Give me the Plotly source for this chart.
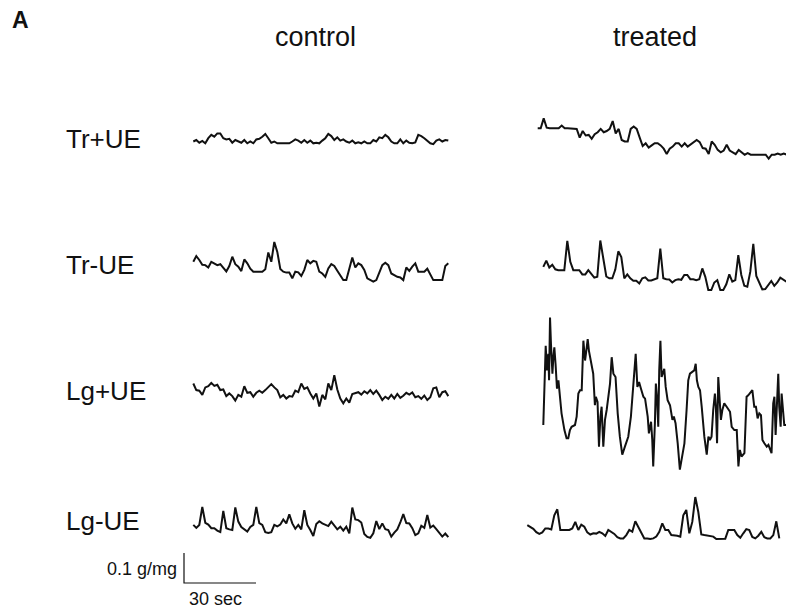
import plotly.graph_objects as go

# ---------------- canvas / scale ----------------
W, H = 794, 611           # target picture size
OFF = 8                   # page body margin of the browser
WF, HF = W - OFF, H - OFF # visible figure size
PX_PER_SEC = 2.4          # 30 s scale bar = 72 px
PX_PER_GMG = 300.0        # 0.1 g/mg scale bar = 30 px
SAMPLE_INTERVAL = 1.25    # s between digitised samples

ROW_LABELS = ["Tr+UE", "Tr-UE", "Lg+UE", "Lg-UE"]
COLUMN_TITLES = ["control", "treated"]
PANEL_LETTER = "A"
SCALE_TIME = 30           # s
SCALE_FORCE = 0.1         # g/mg
SCALE_TIME_LABEL = "30 sec"
SCALE_FORCE_LABEL = "0.1 g/mg"

# ---------------- data (force, mg/mg, relative to trace baseline) ----------------
control_tr_plus_ue = [6, 11, 2, 8, 0, 17, 28, 22, 33, 33, 17, 13, 15, 2, 11, 6, 2, 11, 0, 6,
                      0, 13, 15, 22, 31, 17, 2, 6, 0, 0, 0, 0, 0, 6, 13, 9, 2, 11, 2, 9,
                      0, 2, 0, 9, 17, 31, 24, 11, 20, 9, 13, 6, 2, 9, 0, 3, 0, 6, 0, 0,
                      11, 6, 20, 17, 28, 20, 6, 0, 0, 13, 0, 9, 2, 0, 3, 28, 24, 17, 9, 0,
                      -3, 9, 13, 6, 11, 9]
treated_tr_plus_ue = [0, 0, 33, 2, 0, 0, 0, 0, 9, 0, 0, 0, 0, -2, -31, -9, -24, -22, -35, -20,
                      -13, -2, -13, -9, -2, 24, -17, -2, -39, -44, -44, -2, 6, -2, -31, -59, -50, -64, -57, -50,
                      -50, -57, -68, -86, -68, -61, -50, -50, -61, -50, -61, -53, -46, -39, -46, -66, -68, -86, -44, -55,
                      -72, -80, -74, -55, -74, -79, -86, -72, -79, -88, -83, -88, -88, -88, -88, -88, -88, -101, -88, -88,
                      -84, -88, -84, -88, -90, -83]
control_tr_minus_ue = [33, 52, 39, 23, 22, 14, 33, 28, 22, 25, 11, 1, 19, 50, 25, 17, 2, 41, 28, 10,
                       0, 0, 0, 0, 8, 64, 33, 99, 66, 9, 0, -3, -3, -22, 0, -2, -14, 6, 39, 28,
                       36, 33, 0, -6, -17, 11, 25, 19, 3, -14, -28, -28, 6, 47, 14, 28, 22, 6, -22, -28,
                       -33, -28, -3, 22, 30, 22, -6, -11, -17, -19, -28, 14, 3, 17, 28, 0, 0, 0, 10, -11,
                       -28, -28, -28, -28, 19, 28]
treated_tr_minus_ue = [77, 98, 75, 84, 69, 66, 66, 66, 164, 94, 66, 67, 66, 52, 52, 66, 55, 41, 44, 165,
                       105, 45, 39, 39, 68, 129, 110, 39, 52, 39, 31, 31, 22, 39, 42, 32, 32, 36, 39, 138,
                       39, 36, 35, 25, 33, 36, 34, 50, 50, 36, 36, 33, 36, 72, 44, 0, 0, 25, 33, 0,
                       0, 19, 52, 28, 33, 116, 50, 14, 11, 61, 154, 47, 25, 2, 3, 17, 30, 14, 25, 41,
                       35, 28, 25, 14]
control_lg_plus_ue = [44, 22, 20, 6, 31, 35, 46, 36, 40, 22, 24, 2, 11, 2, -13, 6, 0, 35, 13, 15,
                      0, 13, 20, 13, 22, 33, 42, 31, 22, -2, 6, -6, 2, 0, 20, 15, 44, 26, 31, 11,
                      -6, 11, -33, 6, -9, 44, 22, 72, 24, -6, -22, -6, -20, 9, 11, 15, 7, 18, 11, 22,
                      9, 20, 6, -11, 0, -7, 6, -6, 9, -4, 3, 13, 7, 14, -2, 2, -7, 4, -11, -2,
                      28, 31, -2, 15, 18, 2]
# treated Lg+UE digitised at its vertices: time (s) and force (mg/mg)
treated_lg_plus_ue_t = [0.0, 0.4, 1.0, 1.5, 2.1, 2.4, 2.8, 3.2, 3.8, 4.2, 4.6, 5.1, 5.7, 6.3, 6.9, 7.6, 8.8, 9.7,
                        10.4, 11.1, 11.8, 13.2, 13.9, 14.6, 15.3, 16.0, 16.7, 17.4, 18.1, 18.5, 19.0, 19.6, 20.1,
                        20.8, 21.5, 21.9, 22.6, 23.2, 23.8, 24.3, 25.0, 25.7, 26.4, 27.1, 27.8, 28.5, 29.2, 30.1,
                        31.0, 31.9, 32.9, 34.0, 35.4, 36.5, 37.5, 38.5, 39.2, 39.9, 40.7, 41.7, 42.4, 43.5, 44.0,
                        44.9, 45.4, 45.8, 46.5, 46.9, 47.4, 47.9, 48.3, 48.8, 49.3, 50.0, 50.4, 51.0, 51.8, 52.8,
                        53.8, 54.4, 55.1, 56.0, 56.9, 57.6, 58.8, 59.7, 60.4, 61.1, 62.1, 62.9, 63.5, 64.0, 64.6,
                        65.3, 66.0, 67.1, 68.1, 68.8, 69.4, 70.1, 70.8, 71.5, 71.9, 72.4, 72.9, 73.5, 74.0, 74.6,
                        75.4, 76.4, 77.8, 78.5, 79.6, 80.6, 81.3, 81.9, 82.6, 83.8, 84.7, 85.4, 86.5, 87.1, 87.9,
                        88.6, 89.3, 90.0, 90.7, 91.3, 92.1, 93.1, 93.8, 94.4, 95.1, 95.8, 96.3, 96.8, 97.2, 97.6,
                        97.9, 98.3, 98.9, 99.3, 99.9, 100.4, 101.4, 102.8, 103.5, 104.4]
treated_lg_plus_ue_v = [0, 82, 264, 182, 237, 149, 358, 270, 171, 226, 259, 204, 121, 149, 94, 39, -17, -44,
                        -44, -17, -6, 0, 28, 105, 116, 116, 281, 215, 259, 286, 248, 220, 198,
                        171, 66, 94, 77, -72, 28, 61, -72, 17, 50, 105, 138, 226, 171, 160,
                        39, -39, -99, -72, -39, 28, 138, 237, 127, 143, 121, 94, 88, 28, -28,
                        11, -50, -138, 6, 138, 88, -6, 182, 281, 160, 182, 187, 127, 83, 66,
                        17, 28, 6, -61, -149, -116, -61, 50, 149, 171, 176, 182, 204, 149, 127,
                        116, 61, -39, -99, -39, -50, -39, 50, 105, 61, -61, 160, 61, 17, 50,
                        72, 61, 44, -6, -17, -17, -138, -83, -105, -94, 94, 99, 110, 116, 61,
                        61, 22, 39, 33, -50, -61, -72, -66, -83, -94, 72, 94, -33, 50, 127,
                        171, 61, -6, 105, 50, 0, 0, -3, 0, 6]
control_lg_minus_ue = [28, 18, 28, 88, 35, 29, 17, 17, 9, 4, 75, 17, 13, 11, 86, 39, 21, 12, 6, 21,
                       28, 88, 34, 28, 4, 1, 4, 28, 23, 29, 46, 33, 63, 33, 15, 28, 13, 77, 28, 11,
                       -9, 31, 40, 33, 28, 24, 39, 26, 13, 22, 9, 22, 0, 86, 46, 44, 36, -2, -12, -15,
                       0, 41, 14, 33, 14, 11, -11, 2, 13, 36, 64, 34, 33, 17, -6, 0, 25, 18, 61, 19,
                       26, 14, 2, -11, -1, -13]
treated_lg_minus_ue = [46, 40, 34, 23, 17, 22, 35, 35, 32, 79, 99, 30, 30, 30, 30, 35, 57, 30, 48, 41,
                       22, 15, 19, 18, 24, 19, 10, 30, 24, 17, 6, 2, 2, 13, 30, 24, 59, 41, 21, 2,
                       2, 0, 2, 8, 24, 52, 30, 30, 13, 13, 11, 8, 79, 97, 19, 57, 140, 90, 15, 13,
                       11, 8, 8, 0, 0, 0, 1, 30, 30, 30, 13, 4, 19, 33, 30, 7, 2, 11, 24, 6,
                       2, 2, 13, 59, 2]

# ---------------- placement helpers (page pixel -> axis units) ----------------
def to_t(px):
    return (px - OFF) / PX_PER_SEC

def to_f(py):
    return (HF - (py - OFF)) / PX_PER_GMG

traces = [
    # (values, times or None, start px, baseline px)
    (control_tr_plus_ue, None, 193.3, 143.3),
    (treated_tr_plus_ue, None, 537.7, 128.3),
    (control_tr_minus_ue, None, 193.3, 271.7),
    (treated_tr_minus_ue, None, 543.3, 290.0),
    (control_lg_plus_ue, None, 193.3, 396.7),
    (treated_lg_plus_ue_v, treated_lg_plus_ue_t, 543.3, 425.0),
    (control_lg_minus_ue, None, 193.3, 533.3),
    (treated_lg_minus_ue, None, 527.3, 539.0),
]

fig = go.Figure()
for vals, times, sx, by in traces:
    t0 = to_t(sx)
    b0 = to_f(by)
    if times is None:
        times = [i * SAMPLE_INTERVAL for i in range(len(vals))]
    fig.add_trace(go.Scatter(
        x=[t0 + t for t in times],
        y=[b0 + v / 1000.0 for v in vals],
        mode="lines",
        line=dict(color="#111111", width=2.0),
        hoverinfo="skip",
        showlegend=False,
    ))

# scale bar
ct, cf = to_t(184), to_f(583)
fig.add_trace(go.Scatter(
    x=[ct, ct, ct + SCALE_TIME],
    y=[cf + SCALE_FORCE, cf, cf],
    mode="lines",
    line=dict(color="#111111", width=1.2),
    hoverinfo="skip",
    showlegend=False,
))

FONT = "Liberation Sans, Arial, sans-serif"

def ann(text, px, py, size, xanchor="center", bold=False):
    return dict(
        text=f"<b>{text}</b>" if bold else text,
        x=(px - OFF) / WF, y=1 - (py - OFF) / HF, xref="paper", yref="paper",
        xanchor=xanchor, yanchor="middle", showarrow=False,
        font=dict(family=FONT, size=size, color="#111111"),
    )

annotations = [
    ann(PANEL_LETTER, 10, 20, 23, xanchor="left", bold=True),
    ann(COLUMN_TITLES[0], 315, 37, 27),
    ann(COLUMN_TITLES[1], 655, 37, 27),
]
row_y = [139, 265, 391, 521]
for lab, y in zip(ROW_LABELS, row_y):
    annotations.append(ann(lab, 64, y, 26, xanchor="left"))
annotations.append(ann(SCALE_FORCE_LABEL, 179, 569, 18, xanchor="right"))
annotations.append(ann(SCALE_TIME_LABEL, 216, 599, 18))

fig.update_layout(
    width=WF, height=HF,
    margin=dict(l=0, r=0, t=0, b=0),
    paper_bgcolor="white", plot_bgcolor="white",
    xaxis=dict(range=[0, WF / PX_PER_SEC], visible=False, fixedrange=True),
    yaxis=dict(range=[0, HF / PX_PER_GMG], visible=False, fixedrange=True),
    annotations=annotations,
)

fig.write_html("out.html")
